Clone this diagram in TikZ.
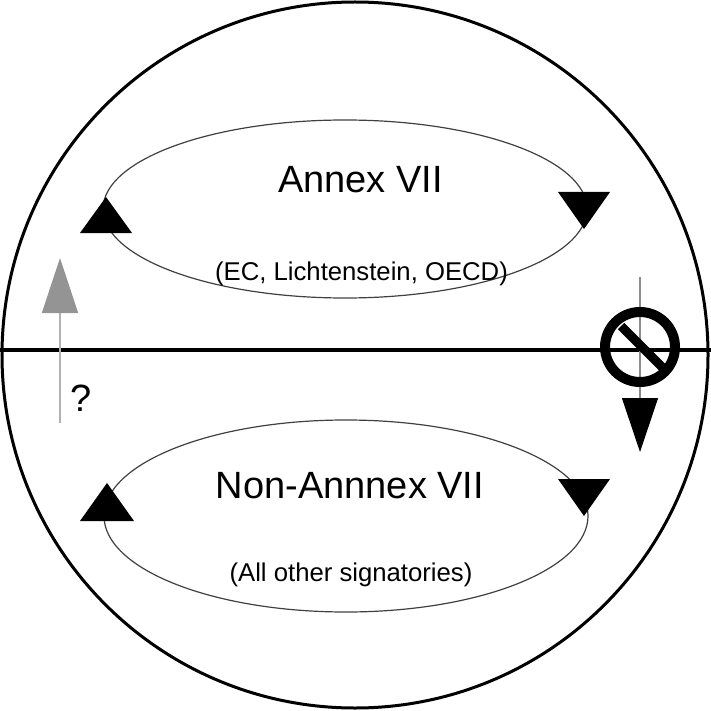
\documentclass[tikz,border=0pt]{standalone}
\usepackage{fontspec}
\setmainfont{Liberation Sans}
\usepackage{tikz}
\usetikzlibrary{positioning,calc,arrows.meta}

\begin{document}
\begin{tikzpicture}[x=1pt,y=-1pt,
    loopline/.style={draw=black!75, line width=1.2pt},
    tri/.style={fill=black},
    bigtext/.style={font=\fontsize{38}{40}\selectfont, anchor=base},
    smalltext/.style={font=\fontsize{25.7}{28}\selectfont, anchor=base}]
    \useasboundingbox (0,0) rectangle (711,711);

    % Outer circle and dividing line
    \draw[line width=3pt] (355,355) circle[radius=353pt];
    \draw[line width=4pt] (0,350) -- (711,350);

    % Upper loop
    \draw[loopline] (345,209) ellipse[x radius=242pt, y radius=89pt];
    \fill[tri] (106,197) -- (132,233) -- (80,233) -- cycle;
    \fill[tri] (558,192) -- (610,192) -- (584,229) -- cycle;
    \node[bigtext] (annex) at (360.5,193) {Annex VII};
    \node[smalltext] (annexsub) at (361.5,280) {(EC, Lichtenstein, OECD)};

    % Lower loop
    \draw[loopline] (346,516) ellipse[x radius=242pt, y radius=96pt];
    \fill[tri] (107,483) -- (134,521) -- (80,521) -- cycle;
    \fill[tri] (558,479) -- (610,479) -- (584,516) -- cycle;
    \node[bigtext] (nonannex) at (350,498) {Non-Annnex VII};
    \node[smalltext] (nonannexsub) at (351,581) {(All other signatories)};

    % Upward move, uncertain
    \coordinate (upfrom) at (60,423);
    \coordinate (upto) at (60,258);
    \draw[draw=black!30, line width=1.5pt,
        -{Triangle[length=55pt,width=36pt,color=black!42,fill=black!42]}] (upfrom) -- (upto);
    \node[font=\fontsize{38}{40}\selectfont] (query) at (81,398) {?};

    % Downward move, prohibited
    \coordinate (downfrom) at (640,277);
    \coordinate (downto) at (640,452);
    \draw[draw=black!45, line width=1.2pt,
        -{Triangle[length=54pt,width=36pt,color=black,fill=black]}] (downfrom) -- (downto);
    \draw[line width=10pt] (640,347) circle[radius=35pt];
    \draw[line width=9pt] (621,326) -- (663,368);
\end{tikzpicture}
\end{document}
